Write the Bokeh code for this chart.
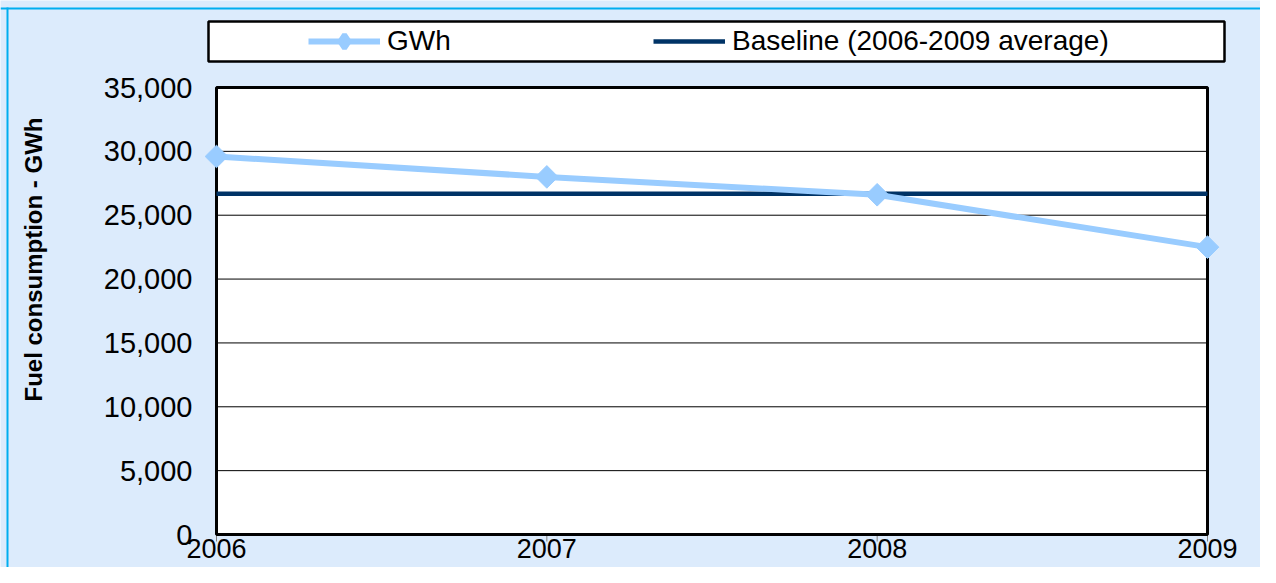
import math
from bokeh.plotting import figure
from bokeh.models import Range1d, Legend, LegendItem, BoxAnnotation, Label
from bokeh.core.properties import value
from bokeh.embed import file_html
from bokeh.resources import INLINE

# ---- data ----
years = [2006, 2007, 2008, 2009]
gwh = [29600, 28000, 26600, 22500]
baseline = [26675, 26675, 26675, 26675]
x_tick_labels = ["2006", "2007", "2008", "2009"]
y_ticks = [0, 5000, 10000, 15000, 20000, 25000, 30000, 35000]
y_tick_labels = ["0", "5,000", "10,000", "15,000", "20,000", "25,000", "30,000", "35,000"]
series_names = ["GWh", "Baseline (2006-2009 average)"]
y_title = "Fuel consumption - GWh"

# ---- style / layout ----
BG = "#DCEBFC"
CYAN = "#00AEEF"
LIGHT = "#99CCFF"
DARK = "#003366"
FONT = "Liberation Sans"
W, H = 1260, 567
PX_LEFT, PX_RIGHT, PX_TOP, PX_BOTTOM = 216, 1207, 87, 534

x_lo, x_hi = years[0], years[-1]
y_lo, y_hi = y_ticks[0], y_ticks[-1]
xs = (PX_RIGHT - PX_LEFT) / (x_hi - x_lo)
ys = (PX_BOTTOM - PX_TOP) / (y_hi - y_lo)
x_range = Range1d(x_lo - PX_LEFT / xs, x_hi + (W - PX_RIGHT) / xs)
y_range = Range1d(y_lo - (H - PX_BOTTOM) / ys, y_hi + PX_TOP / ys)

p = figure(width=W, height=H, x_range=x_range, y_range=y_range,
           x_axis_location=None, y_axis_location=None, min_border=0,
           output_backend="svg", toolbar_location=None)
p.grid.visible = False
p.outline_line_color = None
p.background_fill_color = BG
p.border_fill_color = BG

def screen_box(left, right, top, bottom, **kw):
    return BoxAnnotation(left=left, right=right, top=H - top, bottom=H - bottom,
                         left_units="screen", right_units="screen",
                         top_units="screen", bottom_units="screen", **kw)

# outer cyan border (top & left)
p.add_layout(screen_box(0, W, 7, 9, fill_color=CYAN, fill_alpha=1, line_color=None))
p.add_layout(screen_box(6, 8, 7, H, fill_color=CYAN, fill_alpha=1, line_color=None))

# plot area
p.quad(left=x_lo, right=x_hi, bottom=y_lo, top=y_hi, fill_color="white", line_color=None)
p.segment(x0=[x_lo] * len(y_ticks), x1=[x_hi] * len(y_ticks), y0=y_ticks, y1=y_ticks,
          line_color="black", line_width=1)
p.ray(x=years, y=[y_lo] * len(years), length=7, length_units="screen", angle=-math.pi / 2,
      line_color="#808080", line_width=1)
p.quad(left=x_lo, right=x_hi, bottom=y_lo, top=y_hi, fill_color=None,
       line_color="black", line_width=3)

# tick labels
p.text(x=[x_lo] * len(y_ticks), y=y_ticks, text=y_tick_labels, x_offset=-24,
       text_align="right", text_baseline="middle", text_font=value(FONT),
       text_font_size="29px", text_color="black")
p.text(x=years, y=[y_lo] * len(years), text=x_tick_labels, y_offset=14,
       text_align="center", text_baseline="alphabetic", text_font=value(FONT),
       text_font_size="27px", text_color="black")

# series
base_r = p.line(years, baseline, line_color=DARK, line_width=4.5)
line_r = p.line(years, gwh, line_color=LIGHT, line_width=6)
# diamond glyph used for the legend entry (fully covered by the markers below)
legend_mark = p.scatter(years, gwh, marker="diamond", size=14, fill_color=LIGHT,
                        line_color=LIGHT, line_width=5)
mark_r = p.scatter(years, gwh, marker="square", angle=math.pi / 4, size=16,
                   fill_color=LIGHT, line_color=LIGHT)

# legend box + legend
p.add_layout(screen_box(208, 1224, 21, 61, fill_color="white", fill_alpha=1,
                        line_color="black", line_width=2.5, line_alpha=1))
legend = Legend(items=[LegendItem(label=series_names[0], renderers=[line_r, legend_mark]),
                       LegendItem(label=series_names[1], renderers=[base_r])],
                orientation="horizontal", location=(308, H - 61), padding=0, spacing=166,
                glyph_width=72, glyph_height=34, label_width=100, label_height=40,
                label_standoff=7, label_text_font=FONT, label_text_font_size="28px",
                label_text_color="black", border_line_color=None,
                background_fill_alpha=0, margin=0)
p.add_layout(legend)

# y axis title
p.add_layout(Label(x=33, y=H - 259, x_units="screen", y_units="screen", text=y_title,
                   angle=math.pi / 2, text_align="center", text_baseline="alphabetic",
                   text_font=FONT, text_font_style="bold", text_font_size="24px",
                   text_color="black"))

open("out.html", "w").write(file_html(p, INLINE))
